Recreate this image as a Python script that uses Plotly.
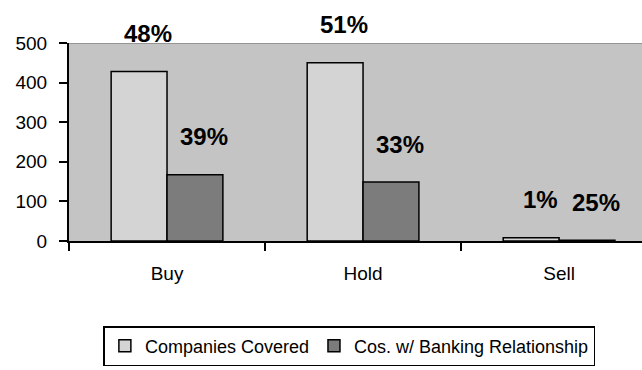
import plotly.graph_objects as go

# Recommendation counts by rating
ratings = ["Buy", "Hold", "Sell"]
companies_covered = [428, 450, 8]
banking_relationship = [167, 149, 2]
y_ticks = [0, 100, 200, 300, 400, 500]

series_names = ["Companies Covered", "Cos. w/ Banking Relationship"]

total_covered = sum(companies_covered)
covered_share = [round(100 * v / total_covered) for v in companies_covered]
banking_share = [round(100 * b / c) for b, c in zip(banking_relationship, companies_covered)]

BARGAP = 0.43
bar_w = (1 - BARGAP) / 2

fig = go.Figure()
fig.add_trace(go.Bar(
    x=ratings, y=companies_covered, name=series_names[0],
    marker=dict(color="#d4d4d4", line=dict(color="#000000", width=1.5)),
))
fig.add_trace(go.Bar(
    x=ratings, y=banking_relationship, name=series_names[1],
    marker=dict(color="#7c7c7c", line=dict(color="#000000", width=1.5)),
))

label_font = dict(family="Liberation Sans, Arial, sans-serif", size=24, color="#000000")
for i in range(len(ratings)):
    for offset, val, pct in ((-bar_w / 2, companies_covered[i], covered_share[i]),
                             (bar_w / 2, banking_relationship[i], banking_share[i])):
        fig.add_annotation(
            x=i + offset, y=val, xref="x", yref="y",
            text=f"<b>{pct}%</b>", showarrow=False,
            xanchor="center", yanchor="middle",
            xshift=9, yshift=38, font=label_font,
        )

# darker rule along the top of the plot area
fig.add_shape(type="line", xref="paper", yref="y", x0=0, x1=1, y0=500, y1=500,
              line=dict(color="#858585", width=1.5), layer="above")

axis_font = dict(family="Liberation Sans, Arial, sans-serif", size=19, color="#000000")

fig.update_layout(
    width=642, height=370,
    margin=dict(l=69, r=0, t=43, b=129),
    paper_bgcolor="#ffffff",
    plot_bgcolor="#c4c4c4",
    barmode="group", bargap=BARGAP, bargroupgap=0,
    showlegend=True,
    legend=dict(
        orientation="h", x=0.06, xanchor="left", y=-0.43, yanchor="top",
        font=dict(family="Liberation Sans, Arial, sans-serif", size=18, color="#000000"),
        bordercolor="#000000", borderwidth=1.5, bgcolor="#ffffff",
        itemwidth=30, traceorder="normal",
    ),
    xaxis=dict(
        type="category", range=[-0.5, 2.423],
        showline=True, linecolor="#000000", linewidth=2,
        ticks="outside", tickson="boundaries", ticklen=8, tickwidth=2, tickcolor="#000000",
        tickfont=axis_font, ticklabelstandoff=14, showgrid=False,
    ),
    yaxis=dict(
        range=[0, 500], tickvals=y_ticks, ticktext=[str(v) for v in y_ticks],
        showline=True, linecolor="#000000", linewidth=2,
        ticks="outside", ticklen=8, tickwidth=2, tickcolor="#000000",
        tickfont=axis_font, ticklabelstandoff=8, showgrid=False, zeroline=False,
    ),
)

fig.write_html("out.html")
